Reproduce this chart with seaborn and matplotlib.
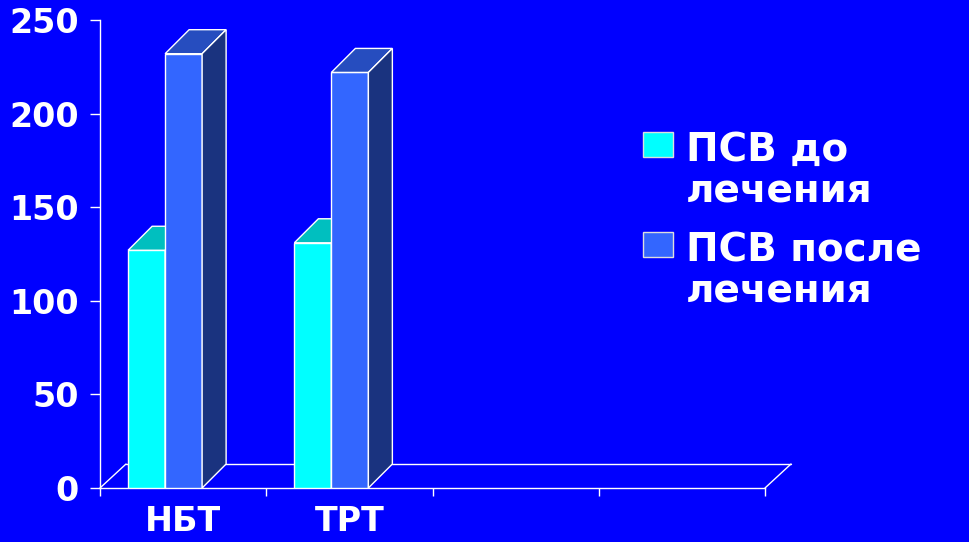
import numpy as np
import pandas as pd
import matplotlib
matplotlib.use("Agg")
import matplotlib.pyplot as plt
from matplotlib.colors import to_hex
from matplotlib.patches import Polygon, Rectangle
import seaborn as sns

# ---- data -------------------------------------------------------------
groups = ["НБТ", "ТРТ"]
slot_labels = ["НБТ", "ТРТ", "", ""]          # four category slots on the floor
series = ["ПСВ до\nлечения", "ПСВ после\nлечения"]
before = [127, 131]
after = [232, 222]
y_ticks = [0, 50, 100, 150, 200, 250]

# ---- styling ----------------------------------------------------------
BG = "#0000FF"
front_colors = ["#00FFFF", "#3366FF"]
top_colors = ["#00BFBF", "#264DBF"]
side_colors = ["#009999", "#1A337F"]
EDGE = "white"

W, H = 969, 542
BAR_DX, BAR_DY = 24, 24        # extrusion of each column, pixels
FLOOR_DX, FLOOR_DY = 26, 24    # depth of the floor, pixels
FRONT_SHIFT = 18               # front faces sit left of slot centre, pixels

df = pd.DataFrame({
    "group": groups * 2,
    "series": [series[0]] * len(groups) + [series[1]] * len(groups),
    "value": before + after,
})

sns.set_style("white", {"axes.facecolor": BG, "figure.facecolor": BG})
plt.rcParams["font.family"] = ["DejaVu Sans"]
plt.rcParams["font.weight"] = "bold"

fig = plt.figure(figsize=(W / 100, H / 100), dpi=100)
fig.patch.set_facecolor(BG)
ax = fig.add_axes([100 / W, 54 / H, 665 / W, 468 / H])
ax.set_facecolor(BG)

sns.barplot(data=df, x="group", y="value", hue="series",
            order=groups, hue_order=series, palette=front_colors,
            saturation=1, width=0.445, errorbar=None,
            edgecolor=EDGE, linewidth=1, legend=False, ax=ax)

ax.set_xlim(-0.5, len(slot_labels) - 0.5)
ax.set_ylim(0, 250)
ax.set_xlabel("")
ax.set_ylabel("")


def shifted(x, y, dx, dy):
    """Data point moved by (dx, dy) screen pixels."""
    disp = ax.transData.transform((x, y)) + np.array([dx, dy])
    return tuple(ax.transData.inverted().transform(disp))


px_per_unit = ax.transData.transform((1, 0))[0] - ax.transData.transform((0, 0))[0]

# ---- floor outline ------------------------------------------------------
x_lo, x_hi = ax.get_xlim()
back_l = shifted(x_lo, 0, FLOOR_DX, FLOOR_DY)
back_r = shifted(x_hi, 0, FLOOR_DX, FLOOR_DY)
for xs, ys in [((back_l[0], back_r[0]), (back_l[1], back_r[1])),
               ((x_lo, back_l[0]), (0, back_l[1])),
               ((x_hi, back_r[0]), (0, back_r[1]))]:
    ax.plot(xs, ys, color=EDGE, lw=1, clip_on=False, zorder=1.5)

# ---- extrude columns into boxes -----------------------------------------
hex_front = [to_hex(c) for c in front_colors]
bars = sorted(list(ax.patches), key=lambda p: p.get_x())
for i, p in enumerate(bars):
    k = hex_front.index(to_hex(p.get_facecolor()))
    p.set_x(p.get_x() - FRONT_SHIFT / px_per_unit)
    z = 3 + i * 0.1
    p.set_zorder(z)
    x0, x1 = p.get_x(), p.get_x() + p.get_width()
    y1 = p.get_height()
    top = [(x0, y1), (x1, y1), shifted(x1, y1, BAR_DX, BAR_DY), shifted(x0, y1, BAR_DX, BAR_DY)]
    side = [(x1, 0), (x1, y1), shifted(x1, y1, BAR_DX, BAR_DY), shifted(x1, 0, BAR_DX, BAR_DY)]
    ax.add_patch(Polygon(top, closed=True, facecolor=top_colors[k], edgecolor=EDGE,
                         lw=1, zorder=z, clip_on=False))
    ax.add_patch(Polygon(side, closed=True, facecolor=side_colors[k], edgecolor=EDGE,
                         lw=1, zorder=z, clip_on=False))

# ---- axes ---------------------------------------------------------------
for s in ["top", "right"]:
    ax.spines[s].set_visible(False)
for s in ["left", "bottom"]:
    ax.spines[s].set_color(EDGE)
    ax.spines[s].set_linewidth(1)
    ax.spines[s].set_zorder(2)

ax.set_yticks(y_ticks)
ax.set_yticklabels([str(t) for t in y_ticks])
ax.tick_params(axis="y", left=True, colors="white", length=7.2, width=1,
               direction="out", pad=8, labelsize=24)

ax.set_xticks(range(len(slot_labels)))
ax.set_xticklabels(slot_labels)
ax.set_xticks(np.arange(x_lo, x_hi + 0.01, 1), minor=True)
ax.tick_params(axis="x", which="major", bottom=True, length=0, pad=12,
               labelsize=24, labelcolor="white")
ax.tick_params(axis="x", which="minor", bottom=True, length=6, width=1,
               color="white", direction="out")

# ---- legend -------------------------------------------------------------
for i, (lab, col) in enumerate(zip(series, front_colors)):
    top_px = 132 + i * 100
    fig.patches.append(Rectangle((643 / W, 1 - (top_px + 25) / H), 30 / W, 25 / H,
                                 transform=fig.transFigure, facecolor=col,
                                 edgecolor="#DDDDDD", lw=1))
    fig.text(686 / W, 1 - (top_px - 1) / H, lab, color="white", fontsize=28,
             fontweight="bold", va="top", ha="left", linespacing=1.12)

fig.savefig("out.png", dpi=100, facecolor=BG)
